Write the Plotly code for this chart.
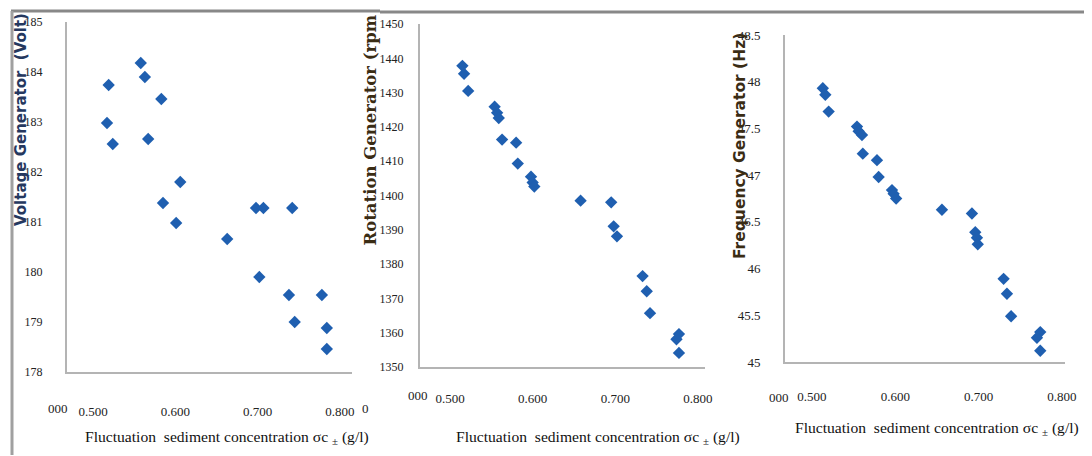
import plotly.graph_objects as go

# The page places the figure 8px in from the window's top-left corner,
# so the figure is drawn 8px smaller and all positions are shifted by 8px.
OFF = 8
WIN_W, WIN_H = 1092, 456
W, H = WIN_W - OFF, WIN_H - OFF

# ---- data ----
volt_x = [0.519, 0.517, 0.524, 0.558, 0.563, 0.583, 0.567, 0.606, 0.585, 0.601,
          0.698, 0.707, 0.742, 0.663, 0.702, 0.738, 0.778, 0.745, 0.784, 0.784]
volt_y = [183.74, 182.98, 182.56, 184.18, 183.90, 183.46, 182.66, 181.80, 181.38, 180.98,
          181.28, 181.28, 181.28, 180.66, 179.90, 179.54, 179.54, 179.00, 178.88, 178.46]

rpm_x = [0.515, 0.517, 0.522, 0.554, 0.557, 0.559, 0.563, 0.580, 0.582, 0.598, 0.600, 0.602,
         0.658, 0.695, 0.698, 0.702, 0.733, 0.738, 0.742, 0.777, 0.774, 0.777]
rpm_y = [1437.8, 1435.5, 1430.5, 1425.9, 1424.1, 1422.6, 1416.3, 1415.4, 1409.3, 1405.5, 1403.8, 1402.6,
         1398.5, 1398.0, 1391.0, 1388.1, 1376.5, 1372.1, 1365.7, 1359.6, 1358.1, 1354.1]

hz_x = [0.513, 0.516, 0.520, 0.554, 0.556, 0.560, 0.561, 0.578, 0.580, 0.596, 0.598, 0.601,
        0.656, 0.692, 0.696, 0.698, 0.699, 0.730, 0.734, 0.739, 0.774, 0.770, 0.774]
hz_y = [47.93, 47.86, 47.68, 47.52, 47.47, 47.43, 47.23, 47.16, 46.98, 46.84, 46.80, 46.75,
        46.63, 46.59, 46.39, 46.33, 46.26, 45.89, 45.73, 45.49, 45.32, 45.26, 45.12]

x_ticks = [0.5, 0.6, 0.7, 0.8]
x_ticktext = ["0.500", "0.600", "0.700", "0.800"]
volt_ticks = [178, 179, 180, 181, 182, 183, 184, 185]
rpm_ticks = [1350, 1360, 1370, 1380, 1390, 1400, 1410, 1420, 1430, 1440, 1450]
hz_ticks = [45, 45.5, 46, 46.5, 47, 47.5, 48, 48.5]
hz_ticktext = ["45", "45.5", "46", "46.5", "47", "47.5", "48", "48.5"]

x_title = "Fluctuation  sediment concentration σc <sub>±</sub> (g/l)"

MARK = dict(symbol="diamond", size=9.5, color="#1f5fb0")
SERIF = "Liberation Serif, Times New Roman, serif"
AX = "#b4b4b4"


def px(x):
    return (x - OFF) / W


def py(y):
    return 1 - (y - OFF) / H


fig = go.Figure()
fig.add_trace(go.Scatter(x=volt_x, y=volt_y, mode="markers", marker=MARK, xaxis="x", yaxis="y"))
fig.add_trace(go.Scatter(x=rpm_x, y=rpm_y, mode="markers", marker=MARK, xaxis="x2", yaxis="y2"))
fig.add_trace(go.Scatter(x=hz_x, y=hz_y, mode="markers", marker=MARK, xaxis="x3", yaxis="y3"))

base = dict(showline=True, linecolor=AX, linewidth=2, showgrid=False, zeroline=False,
            ticks="", automargin=False, tickfont=dict(family=SERIF, size=13, color="#222"))


def xa(dom, rng, anchor, standoff):
    d = dict(base)
    d.update(domain=dom, range=rng, anchor=anchor, tickmode="array",
             tickvals=x_ticks, ticktext=x_ticktext, ticklabelstandoff=standoff)
    return d


def ya(dom, rng, anchor, vals, text, standoff, size):
    d = dict(base)
    d.update(domain=dom, range=rng, anchor=anchor, tickmode="array",
             tickvals=vals, ticktext=text, ticklabelstandoff=standoff,
             tickfont=dict(family=SERIF, size=size, color="#222"))
    return d


fig.update_layout(
    width=W, height=H, margin=dict(l=0, r=0, t=0, b=0, pad=0, autoexpand=False),
    paper_bgcolor="white", plot_bgcolor="white", showlegend=False,
    xaxis=xa([px(67), px(352)], [0.4684, 0.8146], "y", 26),
    yaxis=ya([py(372), py(22)], [178, 185], "x", volt_ticks, [str(v) for v in volt_ticks], 20, 12),
    xaxis2=xa([px(420), px(705)], [0.4637, 0.8085], "y2", 18),
    yaxis2=ya([py(367), py(24)], [1350, 1450], "x2", rpm_ticks, [str(v) for v in rpm_ticks], 12, 12),
    xaxis3=xa([px(785), px(1065)], [0.4676, 0.8037], "y3", 21),
    yaxis3=ya([py(362), py(35)], [45, 48.5], "x3", hz_ticks, hz_ticktext, 20, 13),
)

ann = []
# stray tick fragments
for (x, y, t) in [(58, 408, "000"), (365, 408, "0"), (418, 395, "000"), (779, 397, "000")]:
    ann.append(dict(x=px(x), y=py(y), xref="paper", yref="paper", text=t, showarrow=False,
                    font=dict(family=SERIF, size=13, color="#222"), xanchor="center", yanchor="middle"))
# x titles
for (x, y) in [(83, 437), (454, 437), (793, 428)]:
    ann.append(dict(x=px(x), y=py(y), xref="paper", yref="paper", text=x_title, showarrow=False,
                    font=dict(family=SERIF, size=15.6, color="#111"), xanchor="left", yanchor="middle"))
# y titles
ann.append(dict(x=px(21), y=py(120), xref="paper", yref="paper", text="Voltage Generator  (Volt)",
                textangle=-90, showarrow=False, xanchor="center", yanchor="middle",
                font=dict(family="DejaVu Sans", size=15, color="#25385f", weight="bold")))
ann.append(dict(x=px(370), y=py(12), xref="paper", yref="paper", text="Rotation Generator (rpm",
                textangle=-90, showarrow=False, xanchor="center", yanchor="top",
                font=dict(family="DejaVu Serif", size=16.5, color="#3a2c14", weight="bold")))
ann.append(dict(x=px(740), y=py(146), xref="paper", yref="paper", text="Frequency Generator (Hz)",
                textangle=-90, showarrow=False, xanchor="center", yanchor="middle",
                font=dict(family="DejaVu Sans", size=15.5, color="#3a2c14", weight="bold")))
fig.update_layout(annotations=ann)

# frame lines (page border of the original figure)
shapes = [
    dict(type="line", xref="paper", yref="paper", x0=px(11), x1=px(380), y0=py(11), y1=py(11),
         line=dict(color="#888888", width=3), layer="above"),
    dict(type="line", xref="paper", yref="paper", x0=px(380), x1=px(1088), y0=py(12), y1=py(12),
         line=dict(color="#888888", width=3), layer="above"),
    dict(type="line", xref="paper", yref="paper", x0=px(12), x1=px(12), y0=py(11), y1=py(455),
         line=dict(color="#a0a0a0", width=3), layer="above"),
]
fig.update_layout(shapes=shapes)

fig.write_html("out.html")
